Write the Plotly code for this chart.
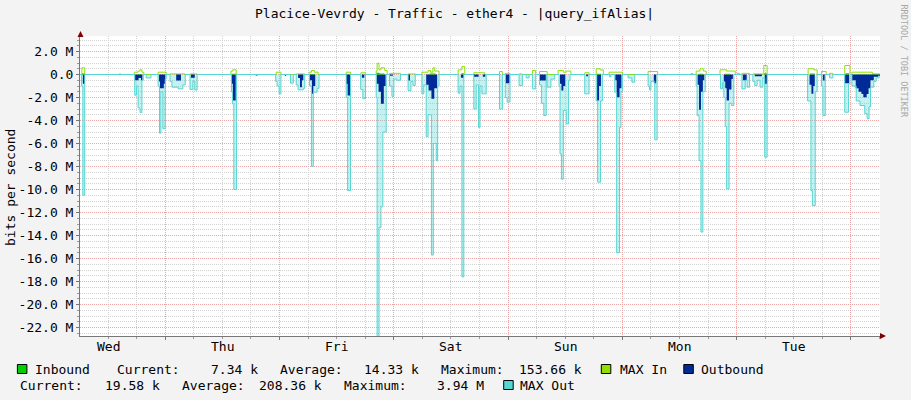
import plotly.graph_objects as go

# ---------------- data (hours since Wed 00:00, values in Mbit/s) ----------------
DAYS = ["Wed", "Thu", "Fri", "Sat", "Sun", "Mon", "Tue"]
DAY_NOON_H = [12, 36, 60, 84, 108, 132, 156]
MIDNIGHT_H = [24, 48, 72, 96, 120, 144, 168]
Y_TICKS = [2, 0, -2, -4, -6, -8, -10, -12, -14, -16, -18, -20, -22]
Y_TICK_TEXT = ["2.0 M", "0.0", "-2.0 M", "-4.0 M", "-6.0 M", "-8.0 M", "-10.0 M",
               "-12.0 M", "-14.0 M", "-16.0 M", "-18.0 M", "-20.0 M", "-22.0 M"]
X_RANGE = [6.1, 174.1]
Y_RANGE = [-22.739, 3.348]

MAX_OUT = [
    (6.1, 0), (6.4, -1.0), (6.7, -10.5), (7.1, 0),
    (17.6, -1.8), (17.96, -1.0), (18.3, -2.9), (18.7, -3.3), (19.1, -0.5), (19.4, 0),
    (20.0, -0.3), (21.0, 0),
    (22.5, -1.0), (22.8, -5.1), (23.1, -1.5), (23.5, -4.7), (24.0, -0.4), (24.2, 0),
    (25.0, -0.6), (25.4, -1.1), (26.7, -1.25), (27.7, -0.9), (28.2, 0),
    (29.2, -1.3), (29.8, -0.6), (30.2, -1.35), (30.7, 0),
    (37.9, -1.5), (38.1, -2.55), (38.4, -10.0), (38.95, 0),
    (47.2, -0.6), (47.5, -1.0), (47.9, -1.68), (48.3, 0),
    (50.3, -0.75), (50.9, 0),
    (51.5, -0.9), (51.9, -1.33), (53.0, -1.2), (53.3, 0),
    (54.3, -1.0), (54.7, -8.0), (55.1, -1.54), (55.9, -1.2), (56.3, 0),
    (62.0, -2.0), (62.3, -10.1), (62.9, 0),
    (65.05, -1.3), (65.5, -2.1), (66.05, 0),
    (68.3, -2.0), (68.5, -22.8), (68.9, -13.3), (69.3, -11.5), (69.7, -5.0), (70.4, 0),
    (71.1, -1.0), (71.6, -1.9), (72.0, -0.4), (72.6, -0.5), (73.4, 0),
    (75.0, -1.39), (75.6, -0.6), (76.0, -0.95), (76.5, 0),
    (77.9, -1.68), (78.3, -0.9), (78.8, -5.4), (79.2, -3.5), (79.9, -15.7), (80.3, -6.0),
    (80.9, -7.5), (81.2, -1.0), (81.5, 0),
    (85.5, -1.62), (85.9, -1.0), (86.3, -17.6), (86.7, 0),
    (88.8, -3.0), (89.3, -0.9), (89.8, -4.6), (90.1, -1.0), (90.5, -1.68), (91.4, 0),
    (94.2, -3.0), (94.8, 0),
    (95.4, -2.0), (95.8, -2.4), (96.4, 0),
    (98.3, -0.96), (99.0, 0),
    (99.8, -0.3), (100.4, 0),
    (101.1, -1.25), (101.8, 0),
    (102.6, -0.9), (103.0, -2.5), (103.5, -3.57), (104.0, 0),
    (104.2, -1.1), (105.0, -0.4), (105.8, 0),
    (106.7, -1.0), (106.9, -6.9), (107.2, -9.1), (107.6, -3.13), (108.2, -4.3), (108.7, -0.5), (109.0, 0),
    (112.1, -1.68), (113.0, 0),
    (114.5, -2.3), (114.8, -9.36), (115.4, -2.3), (115.8, 0),
    (117.3, -0.2), (117.6, 0), (118.4, -1.54), (118.8, -15.5), (119.4, -4.6), (119.7, -1.5), (120.0, 0),
    (121.2, -0.3), (122.0, -0.67), (122.6, 0),
    (125.4, -1.0), (125.7, -1.33), (126.0, -0.6), (126.8, -5.68), (127.3, 0),
    (135.5, -1.0), (135.7, -3.57), (136.1, -7.48), (136.5, -13.7), (136.9, -1.5), (137.4, 0),
    (140.6, -1.25), (141.0, -0.7), (141.3, -2.0), (141.6, -4.5), (141.9, -9.94), (142.4, -2.5),
    (142.9, -2.7), (143.4, 0),
    (145.1, -1.25), (145.8, -0.5), (146.2, -1.1), (146.7, 0),
    (147.4, -0.6), (147.8, -0.96), (148.3, -0.5), (148.9, -1.1), (149.5, -0.3), (149.9, -7.19), (150.4, 0),
    (158.9, -2.3), (159.6, -10.1), (159.9, -11.4), (160.5, -1.5), (160.9, 0),
    (161.8, -1.0), (162.1, -3.57), (162.6, 0),
    (163.5, -0.3), (164.2, 0),
    (166.7, -3.28), (167.5, -0.8), (167.8, 0),
    (168.2, -1.0), (169.1, -2.3), (169.9, -2.7), (170.9, -3.4), (171.4, -3.85), (171.8, -2.8),
    (172.1, -1.1), (172.8, -0.6), (173.3, -0.3), (173.9, -0.2), (174.1, -0.2),
]

OUTBOUND = [
    (6.1, 0), (6.7, -0.81), (7.1, 0),
    (17.6, -0.5), (18.4, -0.3), (18.9, -0.5), (19.2, 0),
    (22.7, -0.6), (22.9, -1.19), (23.7, -0.8), (24.0, 0),
    (26.3, -0.52), (27.3, 0),
    (29.4, -0.29), (30.2, 0),
    (37.9, -0.8), (38.2, -2.26), (38.8, 0),
    (43.0, -0.08), (43.4, 0),
    (49.1, -0.1), (49.4, 0),
    (51.9, -0.3), (52.3, -1.1), (52.7, -0.5), (53.0, 0),
    (54.4, -0.5), (54.8, -1.68), (55.1, -1.0), (55.5, 0),
    (62.0, -0.8), (62.3, -1.83), (62.8, 0),
    (65.3, -0.29), (65.8, 0),
    (68.4, -0.8), (68.8, -1.5), (69.3, -2.55), (69.9, -1.0), (70.3, 0),
    (71.2, -0.1), (71.8, 0),
    (75.0, -0.52), (75.4, 0),
    (78.8, -0.9), (79.3, -1.4), (79.9, -2.1), (80.5, -1.2), (81.1, 0),
    (86.1, -0.29), (86.7, 0),
    (88.8, -0.2), (89.8, 0),
    (90.7, -0.2), (91.2, 0),
    (95.5, -0.75), (96.3, 0),
    (102.6, -0.52), (104.0, 0),
    (106.9, -0.8), (107.2, -1.39), (107.6, -1.0), (108.0, 0),
    (112.4, -0.15), (112.8, 0),
    (114.7, -2.26), (115.1, -1.0), (115.5, 0),
    (118.5, -0.5), (118.8, -1.97), (119.4, -1.2), (119.8, 0),
    (126.6, -0.75), (127.1, 0),
    (135.8, -0.9), (136.1, -3.07), (136.5, -1.5), (136.9, -0.5), (137.2, 0),
    (141.3, -0.6), (141.6, -1.2), (141.9, -2.26), (142.4, -1.3), (142.9, -0.4), (143.2, 0),
    (145.3, -0.5), (146.1, 0),
    (147.8, -0.15), (149.3, 0),
    (149.9, -0.81), (150.4, 0),
    (159.3, -0.9), (159.7, -1.68), (160.1, -1.0), (160.4, 0),
    (162.1, -0.52), (162.5, 0),
    (166.7, -0.75), (167.6, 0),
    (168.2, -0.5), (169.0, -1.2), (169.6, -1.5), (170.2, -1.7), (170.6, -1.97), (171.3, -1.7),
    (171.7, -1.2), (172.1, -0.5), (172.8, -0.2), (173.7, -0.1), (174.1, -0.1),
]

MAX_IN = [
    (6.1, 0), (6.5, 0.58), (7.1, 0),
    (14.3, 0.05), (14.7, 0),
    (17.5, 0.2), (18.3, 0.3), (18.7, 0.41), (19.1, 0.2), (19.5, 0),
    (22.5, 0.2), (24.2, 0),
    (25.0, 0.05), (28.2, 0),
    (29.2, 0.05), (30.7, 0),
    (37.8, 0.3), (38.2, 0.41), (38.9, 0),
    (47.3, 0.2), (48.3, 0),
    (51.5, 0.05), (53.3, 0),
    (54.2, 0.2), (54.7, 0.35), (55.3, 0.2), (56.1, 0),
    (62.0, 0.2), (62.9, 0),
    (65.1, 0.15), (66.0, 0),
    (68.3, 0.3), (68.5, 0.98), (68.9, 0.4), (69.3, 0.58), (70.1, 0.35), (70.6, 0),
    (71.1, 0.1), (73.4, 0),
    (75.0, 0.05), (76.5, 0),
    (77.9, 0.2), (79.2, 0.35), (79.7, 0.2), (80.2, 0.58), (80.6, 0.3), (81.5, 0),
    (85.5, 0.4), (86.3, 0.7), (86.9, 0),
    (88.8, 0.15), (91.1, 0),
    (94.2, 0.26), (94.8, 0),
    (95.4, 0.1), (96.4, 0),
    (98.3, 0.05), (99.0, 0),
    (101.1, 0.35), (101.8, 0),
    (102.6, 0.26), (104.2, 0),
    (106.5, 0.35), (107.6, 0.2), (108.2, 0.3), (109.2, 0),
    (112.1, 0.15), (113.0, 0),
    (114.5, 0.5), (115.3, 0.4), (116.0, 0),
    (117.2, 0.2), (120.0, 0),
    (125.4, 0.26), (127.4, 0),
    (134.4, 0.08), (134.8, 0),
    (135.5, 0.3), (136.3, 0.5), (137.0, 0.3), (137.6, 0),
    (140.5, 0.41), (141.9, 0.3), (143.7, 0),
    (144.1, 0.1), (144.6, 0),
    (145.1, 0.1), (146.7, 0),
    (147.4, 0.05), (149.5, 0),
    (149.7, 0.78), (150.4, 0),
    (159.0, 0.5), (160.2, 0.4), (160.9, 0),
    (161.8, 0.26), (162.8, 0),
    (163.5, 0.1), (164.2, 0),
    (166.7, 0.78), (167.8, 0),
    (168.2, 0.2), (171.5, 0.2), (172.5, 0.05), (174.1, 0.05),
]

INBOUND = [
    (6.1, 0), (6.5, 0.08), (7.1, 0),
    (18.3, 0.05), (19.1, 0),
    (38.0, 0.06), (38.9, 0),
    (54.5, 0.05), (55.5, 0),
    (68.4, 0.15), (69.0, 0.08), (70.0, 0),
    (79.5, 0.08), (80.8, 0),
    (86.2, 0.1), (86.7, 0),
    (114.6, 0.06), (115.6, 0),
    (136.0, 0.07), (137.0, 0),
    (141.5, 0.06), (142.6, 0),
    (149.8, 0.1), (150.3, 0),
    (159.4, 0.08), (160.4, 0),
    (166.9, 0.1), (167.6, 0),
    (168.5, 0.03), (172.0, 0.03), (174.1, 0.02),
]

TITLE = "Placice-Vevrdy - Traffic - ether4 - |query_ifAlias|"
Y_LABEL = "bits per second"
WATERMARK = "RRDTOOL / TOBI OETIKER"

C_IN = "#00CF00"
C_MAXIN = "#8FE000"
C_OUT = "#002A97"
C_MAXOUT = "#55D6D3"

# legend rows: (text, x pixel, anchor)
LEG_ROW1 = [("Inbound", 33.7, "left"), ("Current:", 116.2, "left"), ("7.34 k", 258.5, "right"),
            ("Average:", 278.9, "left"), ("14.33 k", 420.0, "right"), ("Maximum:", 439.8, "left"),
            ("153.66 k", 582.7, "right"), ("MAX In", 618.8, "left"), ("Outbound", 700.0, "left")]
LEG_ROW2 = [("Current:", 18.6, "left"), ("19.58 k", 160.9, "right"), ("Average:", 181.3, "left"),
            ("208.36 k", 323.0, "right"), ("Maximum:", 342.8, "left"), ("3.94 M", 485.1, "right"),
            ("MAX Out", 518.8, "left")]
LEG_SWATCH = [(17.4, 1, C_IN), (601.3, 1, C_MAXIN), (683.8, 1, C_OUT), (503.7, 2, C_MAXOUT)]

# ---------------- geometry helpers (plot area = 80..880 x 36..336 px) ----------------
PL, PT, PW, PH = 80, 36, 800, 300
W, H = 911, 400


def px(xp):
    return (xp - PL) / PW


def py(yp):
    return (PT + PH - yp) / PH


ROW_Y = {1: 369, 2: 385}
FONT = "DejaVu Sans Mono"


def xy(pts):
    return [p[0] for p in pts], [p[1] for p in pts]


fig = go.Figure()
mx, my = xy(MAX_OUT)
ox, oy = xy(OUTBOUND)
ix, iy = xy(INBOUND)
nx, ny = xy(MAX_IN)

# MAX In line drawn first so that the MAX Out outline sits on top at the zero line
fig.add_trace(go.Scatter(x=nx, y=ny, mode="lines", line=dict(width=1, color=C_MAXIN, shape="hv"),
                         hoverinfo="skip"))
fig.add_trace(go.Scatter(x=mx, y=my, mode="lines", line=dict(width=0, shape="hv"),
                         fill="tozeroy", fillcolor="rgba(85,214,211,0.34)", hoverinfo="skip"))
fig.add_trace(go.Scatter(x=ox, y=oy, mode="lines", line=dict(width=0, color=C_OUT, shape="hv"),
                         fill="tozeroy", fillcolor=C_OUT, hoverinfo="skip"))
fig.add_trace(go.Scatter(x=ix, y=iy, mode="lines", line=dict(width=0, color=C_IN, shape="hv"),
                         fill="tozeroy", fillcolor=C_IN, hoverinfo="skip"))
fig.add_trace(go.Scatter(x=mx, y=my, mode="lines", line=dict(width=1, color=C_MAXOUT, shape="hv"),
                         hoverinfo="skip"))

MAJOR = "#EBA5A5"
MINOR = "#D2D2D2"

fig.update_xaxes(range=X_RANGE, tickmode="array", tickvals=MIDNIGHT_H, showticklabels=False,
                 showgrid=True, gridcolor=MAJOR, griddash="1px,1px", gridwidth=1,
                 ticks="outside", ticklen=3, tickcolor="#777777",
                 minor=dict(tickmode="linear", tick0=0, dtick=6, showgrid=True, gridcolor=MINOR,
                            griddash="1px,1px", ticks="outside", ticklen=2, tickcolor="#999999"),
                 showline=True, linecolor="#777777", linewidth=1, zeroline=False, fixedrange=True)
fig.update_yaxes(range=Y_RANGE, tickmode="array", tickvals=Y_TICKS, ticktext=Y_TICK_TEXT,
                 showgrid=True, gridcolor=MAJOR, griddash="1px,1px", gridwidth=1,
                 ticks="outside", ticklen=3, tickcolor="#777777",
                 tickfont=dict(family=FONT, size=13, color="#000000"),
                 minor=dict(tickmode="linear", tick0=0, dtick=0.5, showgrid=True, gridcolor=MINOR,
                            griddash="1px,1px", ticks="outside", ticklen=2, tickcolor="#999999"),
                 showline=True, linecolor="#777777", linewidth=1, zeroline=False, fixedrange=True)

ann = []
ann.append(dict(text=TITLE, xref="paper", yref="paper", x=px(454), y=py(13), xanchor="center",
                yanchor="middle", showarrow=False, font=dict(family=FONT, size=13, color="#000")))
ann.append(dict(text=Y_LABEL, xref="paper", yref="paper", x=px(11), y=py(188), xanchor="center",
                yanchor="middle", textangle=-90, showarrow=False,
                font=dict(family=FONT, size=13, color="#000")))
ann.append(dict(text=WATERMARK, xref="paper", yref="paper", x=px(903.5), y=py(61), xanchor="center",
                yanchor="middle", textangle=90, showarrow=False,
                font=dict(family=FONT, size=8.5, color="#A8A8A8")))
for d, h in zip(DAYS, DAY_NOON_H):
    ann.append(dict(text=d, xref="x", yref="paper", x=h, y=0, xanchor="center", yanchor="middle",
                    yshift=-10.5, showarrow=False, font=dict(family=FONT, size=13, color="#000")))
for row, items in ((1, LEG_ROW1), (2, LEG_ROW2)):
    for txt, xpix, anc in items:
        ann.append(dict(text=txt, xref="paper", yref="paper", x=px(xpix), y=py(ROW_Y[row]),
                        xanchor=anc, yanchor="middle", showarrow=False, borderpad=0,
                        font=dict(family=FONT, size=13, color="#000")))

shapes = []
for x0, row, col in LEG_SWATCH:
    yc = ROW_Y[row]
    shapes.append(dict(type="rect", xref="paper", yref="paper", x0=px(x0), x1=px(x0 + 9.5),
                       y0=py(yc - 4.5), y1=py(yc + 4.5), fillcolor=col,
                       line=dict(color="#000000", width=1)))
# axis arrows
ARROW = "#7F0000"
shapes.append(dict(type="path", xref="paper", yref="paper",
                   path=f"M {px(77.5)} {py(37)} L {px(83.5)} {py(37)} L {px(80.5)} {py(31)} Z",
                   fillcolor=ARROW, line=dict(width=0)))
shapes.append(dict(type="path", xref="paper", yref="paper",
                   path=f"M {px(880)} {py(333)} L {px(880)} {py(339)} L {px(886)} {py(336)} Z",
                   fillcolor=ARROW, line=dict(width=0)))

fig.update_layout(width=W, height=H, autosize=False,
                  margin=dict(l=PL, r=W - PL - PW, t=PT, b=H - PT - PH, pad=0),
                  paper_bgcolor="#F3F3F3", plot_bgcolor="#FFFFFF", showlegend=False,
                  annotations=ann, shapes=shapes, font=dict(family=FONT, size=13))

fig.write_html("out.html", config={"displayModeBar": False},
               post_script="document.body.style.margin='0';document.body.style.overflow='hidden';")
